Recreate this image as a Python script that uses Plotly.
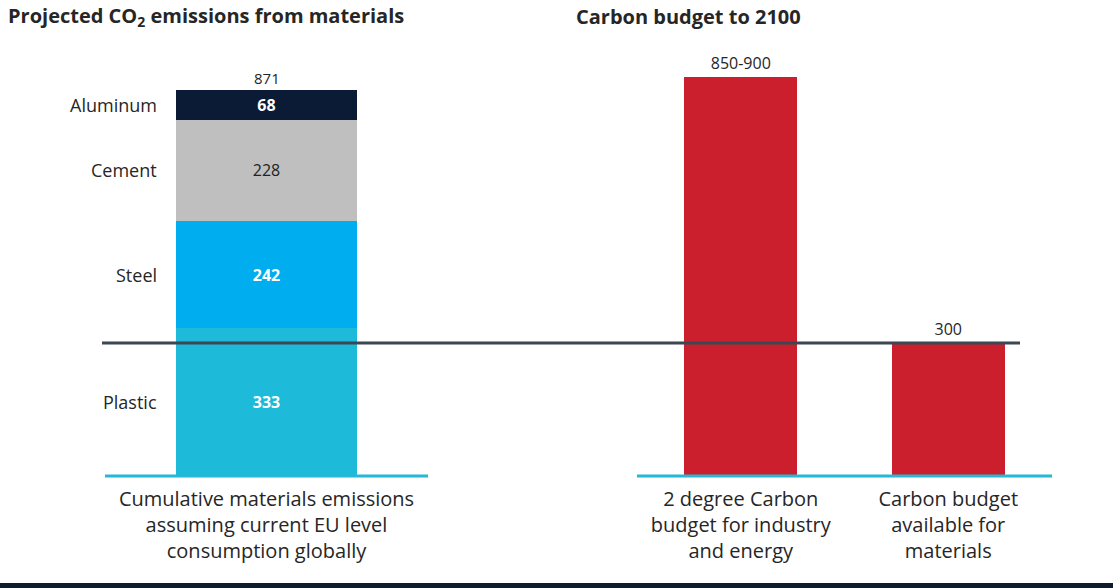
import plotly.graph_objects as go

W, H = 1113, 588

# ---- data ----
MATERIALS = ["Plastic", "Steel", "Cement", "Aluminum"]
MATERIAL_VALUES = [333, 242, 228, 68]
LEFT_CATEGORY = ["Cumulative materials emissions<br>assuming current EU level<br>consumption globally"]
BUDGET_CATEGORIES = ["2 degree Carbon<br>budget for industry<br>and energy",
                     "Carbon budget<br>available for<br>materials"]
BUDGET_VALUES = [900, 300]
BUDGET_LABELS = ["850-900", "300"]
THRESHOLD = 300

# ---- styles ----
MAT_COLORS = {"Plastic": "#1dbbd9", "Steel": "#00adef", "Cement": "#bfbfbf", "Aluminum": "#0c1b35"}
MAT_TEXT = {"Plastic": "white", "Steel": "white", "Cement": "#222222", "Aluminum": "white"}
RED = "#cc1f2d"
FONT = "Open Sans, Noto Sans, sans-serif"
TXT = "#262626"

YMAX = 938
ydom = [1 - 476 / H, 1 - 60 / H]

fig = go.Figure()

for name, val in zip(MATERIALS, MATERIAL_VALUES):
    label = f"<b>{val}</b>" if MAT_TEXT[name] == "white" else str(val)
    fig.add_trace(go.Bar(
        x=LEFT_CATEGORY, y=[val], name=name, xaxis="x", yaxis="y",
        marker=dict(color=MAT_COLORS[name], line=dict(width=0)),
        width=0.56, text=[label], textposition="inside", insidetextanchor="middle",
        constraintext="none", textangle=0,
        textfont=dict(family=FONT, size=16, color=MAT_TEXT[name]),
        showlegend=False, hoverinfo="skip",
    ))

fig.add_trace(go.Bar(
    x=BUDGET_CATEGORIES, y=BUDGET_VALUES, xaxis="x2", yaxis="y2",
    marker=dict(color=RED, line=dict(width=0)), width=0.545,
    text=BUDGET_LABELS, textposition="outside", constraintext="none", textangle=0,
    textfont=dict(family=FONT, size=16, color=TXT), cliponaxis=False,
    showlegend=False, hoverinfo="skip",
))

annotations = []
cum = 0
for name, val in zip(MATERIALS, MATERIAL_VALUES):
    annotations.append(dict(
        xref="x domain", yref="y", x=0.166, y=cum + val / 2, text=name,
        xanchor="right", yanchor="middle", showarrow=False,
        font=dict(family=FONT, size=18, color=TXT)))
    cum += val
annotations.append(dict(
    xref="x", yref="y", x=LEFT_CATEGORY[0], y=cum, text=str(cum),
    xanchor="center", yanchor="bottom", yshift=0, showarrow=False,
    font=dict(family=FONT, size=15, color=TXT)))
annotations.append(dict(
    xref="paper", yref="paper", x=6 / W, y=1 - 16 / H,
    text="<b>Projected CO<sub>2</sub> emissions from materials</b>",
    xanchor="left", yanchor="middle", showarrow=False,
    font=dict(family=FONT, size=20, color=TXT)))
annotations.append(dict(
    xref="paper", yref="paper", x=574 / W, y=1 - 16 / H,
    text="<b>Carbon budget to 2100</b>",
    xanchor="left", yanchor="middle", showarrow=False,
    font=dict(family=FONT, size=20, color=TXT)))

base_y = ydom[0]
shapes = [
    dict(type="line", xref="paper", yref="paper", x0=105 / W, x1=428 / W, y0=base_y, y1=base_y,
         line=dict(color="#27b8d5", width=3), layer="above"),
    dict(type="line", xref="paper", yref="paper", x0=637 / W, x1=1052 / W, y0=base_y, y1=base_y,
         line=dict(color="#27b8d5", width=3), layer="above"),
    dict(type="line", xref="paper", yref="y", x0=102 / W, x1=1020 / W,
         y0=THRESHOLD, y1=THRESHOLD, line=dict(color="#3b4753", width=3), layer="above"),
    dict(type="rect", xref="paper", yref="paper", x0=0, x1=1, y0=0, y1=5 / H,
         fillcolor="#0f1c2c", line=dict(width=0), layer="above"),
]

axis_common = dict(showgrid=False, zeroline=False, showline=False, ticks="",
                   ticklabelstandoff=9,
                   tickfont=dict(family=FONT, size=20, color=TXT))

fig.update_layout(
    width=W, height=H, margin=dict(l=0, r=0, t=0, b=0),
    paper_bgcolor="white", plot_bgcolor="white",
    barmode="stack",
    xaxis=dict(domain=[105 / W, 428 / W], anchor="y", **axis_common),
    xaxis2=dict(domain=[637 / W, 1052 / W], anchor="y2", **axis_common),
    yaxis=dict(domain=ydom, range=[0, YMAX], visible=False, anchor="x"),
    yaxis2=dict(domain=ydom, range=[0, YMAX], visible=False, anchor="x2"),
    annotations=annotations, shapes=shapes,
)

fig.write_html("out.html")
